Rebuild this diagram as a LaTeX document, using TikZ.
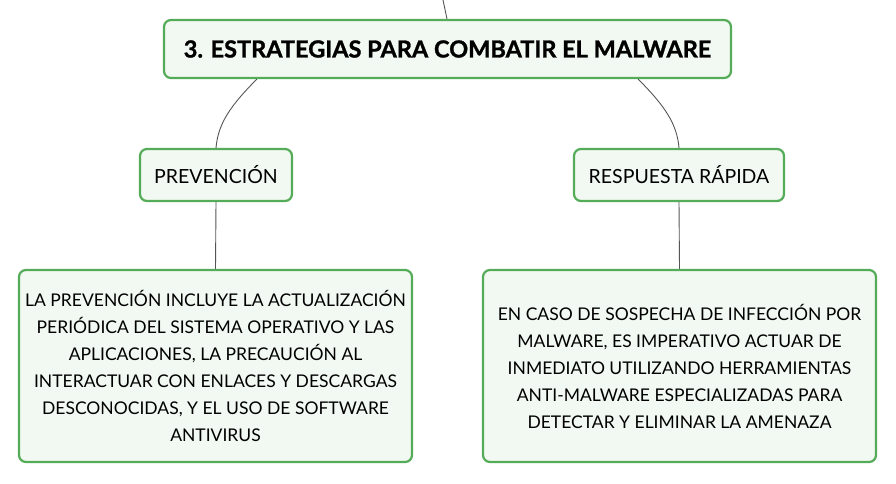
\documentclass[tikz,border=0pt]{standalone}
\usepackage{fontspec}
\setmainfont{Lato}
\newfontfamily\heavyfont{Lato}[BoldFeatures={FakeBold=1.2}]
\definecolor{boxgreen}{RGB}{84,172,88}
\definecolor{boxfill}{RGB}{242,249,242}
\definecolor{linkgray}{RGB}{85,85,85}
\tikzset{
  mapbox/.style={draw=boxgreen, fill=boxfill, line width=2.2pt, rounded corners=7pt, inner sep=0pt, align=center, text=black},
  link/.style={draw=linkgray, line width=0.9pt},
}
\begin{document}
\begin{tikzpicture}[x=1pt,y=-1pt]
\useasboundingbox[fill=white] (0,0) rectangle (896,483);
\node[mapbox, minimum width=567pt, minimum height=58pt, font=\fontsize{23.5}{27}\selectfont\heavyfont\bfseries] (title) at (447.5,49) {3. ESTRATEGIAS PARA COMBATIR EL MALWARE};
\node[mapbox, minimum width=152pt, minimum height=52pt, font=\fontsize{19.5}{22}\selectfont] (prev) at (216,175) {PREVENCIÓN};
\node[mapbox, minimum width=210pt, minimum height=52pt, font=\fontsize{19.5}{22}\selectfont] (resp) at (679,175) {RESPUESTA RÁPIDA};
\node[mapbox, minimum width=393pt, minimum height=192pt, font=\fontsize{17.5}{27}\selectfont] (prevtxt) at (215.5,366) {LA PREVENCIÓN INCLUYE LA ACTUALIZACIÓN\\PERIÓDICA DEL SISTEMA OPERATIVO Y LAS\\APLICACIONES, LA PRECAUCIÓN AL\\INTERACTUAR CON ENLACES Y DESCARGAS\\DESCONOCIDAS, Y EL USO DE SOFTWARE\\ANTIVIRUS};
\node[mapbox, minimum width=393pt, minimum height=192pt, font=\fontsize{17.5}{27}\selectfont] (resptxt) at (679.5,366) {EN CASO DE SOSPECHA DE INFECCIÓN POR\\MALWARE, ES IMPERATIVO ACTUAR DE\\INMEDIATO UTILIZANDO HERRAMIENTAS\\ANTI-MALWARE ESPECIALIZADAS PARA\\DETECTAR Y ELIMINAR LA AMENAZA};
\coordinate (top) at (443,0);
\draw[link] (top) -- ([xshift=-0.5pt]title.north);
\draw[link] ([xshift=94pt]title.south west) .. controls (230,106) and (218,124) .. (prev.north);
\draw[link] ([xshift=-94pt]title.south east) .. controls (665,106) and (677,124) .. (resp.north);
\draw[link] (prev.south) -- (prevtxt.north);
\draw[link] (resp.south) -- (resptxt.north);
\end{tikzpicture}
\end{document}
